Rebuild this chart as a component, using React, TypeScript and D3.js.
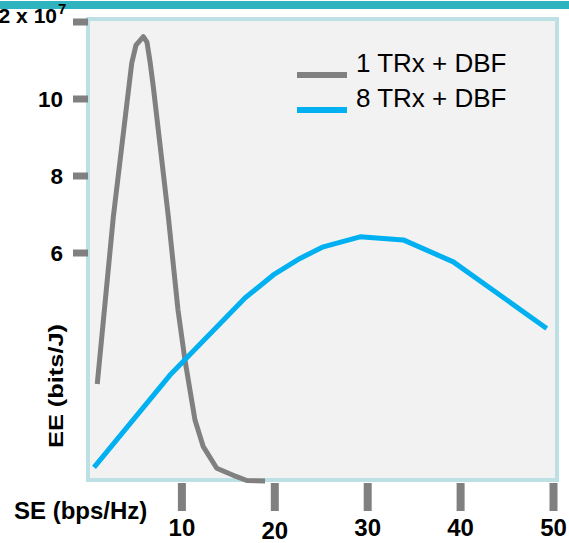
import React from "react";
import * as d3 from "d3";

const seriesNames = ["1 TRx + DBF", "8 TRx + DBF"];
const seriesColors = ["#808080", "#00b0f0"];

// SE (bps/Hz), EE (x 10^7 bits/J)
const oneTrxSE = [0.89, 2.62, 4.34, 4.6, 5.06, 5.85, 6.24, 6.57, 6.92, 8.54, 9.58, 10.33, 10.87, 11.41, 12.3, 13.75, 15.9, 16.98, 18.95];
const oneTrxEE = [2.6, 6.94, 10.41, 10.93, 11.4, 11.62, 11.48, 10.97, 10.32, 6.94, 4.52, 3.22, 2.44, 1.66, 0.97, 0.41, 0.19, 0.09, 0.08];

const eightTrxSE = [0.54, 8.72, 16.79, 19.84, 22.71, 25.22, 29.17, 33.83, 39.21, 49.27];
const eightTrxEE = [0.43, 2.83, 4.83, 5.43, 5.86, 6.16, 6.42, 6.34, 5.77, 4.04];

const xTicks = [10, 20, 30, 40, 50];
const yTicks = [6, 8, 10, 12];
const topTickLabel = "2 x 10";
const topTickExp = "7";
const xTitle = "SE (bps/Hz)";
const yTitle = "EE (bits/J)";

const W = 569;
const H = 543;
const FONT = "'Liberation Sans', Arial, Helvetica, sans-serif";

export default function App() {
  const x = d3.scaleLinear().domain([0, 50]).range([89, 553.5]);
  const y = d3.scaleLinear().domain([0, 12]).range([484, 22]);

  const line = d3
    .line<[number, number]>()
    .x((d) => x(d[0]))
    .y((d) => y(d[1]));

  const s1: [number, number][] = oneTrxSE.map((v, i) => [v, oneTrxEE[i]]);
  const s2: [number, number][] = eightTrxSE.map((v, i) => [v, eightTrxEE[i]]);
  const series = [s1, s2];

  return (
    <svg
      width={W}
      height={H}
      style={{ position: "absolute", left: 0, top: 0, background: "#fff" }}
      fontFamily={FONT}
    >
      <rect x={0} y={1} width={W} height={8} fill="#2fb3be" />
      <rect x={88} y={19} width={469} height={461} fill="#f2f2f2" stroke="#bde0e4" strokeWidth={4} />

      {/* y ticks */}
      {yTicks.map((t) => (
        <g key={"y" + t}>
          <rect x={73} y={y(t) - 3.5} width={15} height={7} fill="#808080" />
          {t === 12 ? (
            <text x={57} y={23} textAnchor="end" fontSize={21} fontWeight="bold" fill="#000">
              {topTickLabel}
            </text>
          ) : (
            <text x={63} y={y(t) + 8} textAnchor="end" fontSize={22.5} fontWeight="bold" fill="#000">
              {t}
            </text>
          )}
        </g>
      ))}
      <text x={58} y={14} fontSize={15} fontWeight="bold" fill="#000">{topTickExp}</text>

      {/* x ticks */}
      {xTicks.map((t) => (
        <g key={"x" + t}>
          <rect x={x(t) - 4} y={483} width={8} height={28} fill="#808080" />
          <text
            x={x(t)}
            y={t === 20 ? 539 : 536}
            textAnchor="middle"
            fontSize={24}
            fontWeight="bold"
            fill="#000"
          >
            {t}
          </text>
        </g>
      ))}

      <text x={14} y={519} fontSize={24} fontWeight="bold" fill="#000">{xTitle}</text>
      <text
        transform="translate(63,386) rotate(-90)"
        textAnchor="middle"
        fontSize={21}
        fontWeight="bold"
        textLength={124}
        lengthAdjust="spacingAndGlyphs"
        fill="#000"
      >
        {yTitle}
      </text>

      {series.map((s, i) => (
        <path
          key={"s" + i}
          d={line(s) || ""}
          fill="none"
          stroke={seriesColors[i]}
          strokeWidth={5}
          strokeLinejoin="round"
        />
      ))}

      {/* legend */}
      {seriesNames.map((n, i) => (
        <g key={"l" + i}>
          <line x1={297} x2={347} y1={75 + i * 35} y2={75 + i * 35} stroke={seriesColors[i]} strokeWidth={6} />
          <text x={356} y={72 + i * 35} fontSize={26} fill="#000">{n}</text>
        </g>
      ))}
    </svg>
  );
}
